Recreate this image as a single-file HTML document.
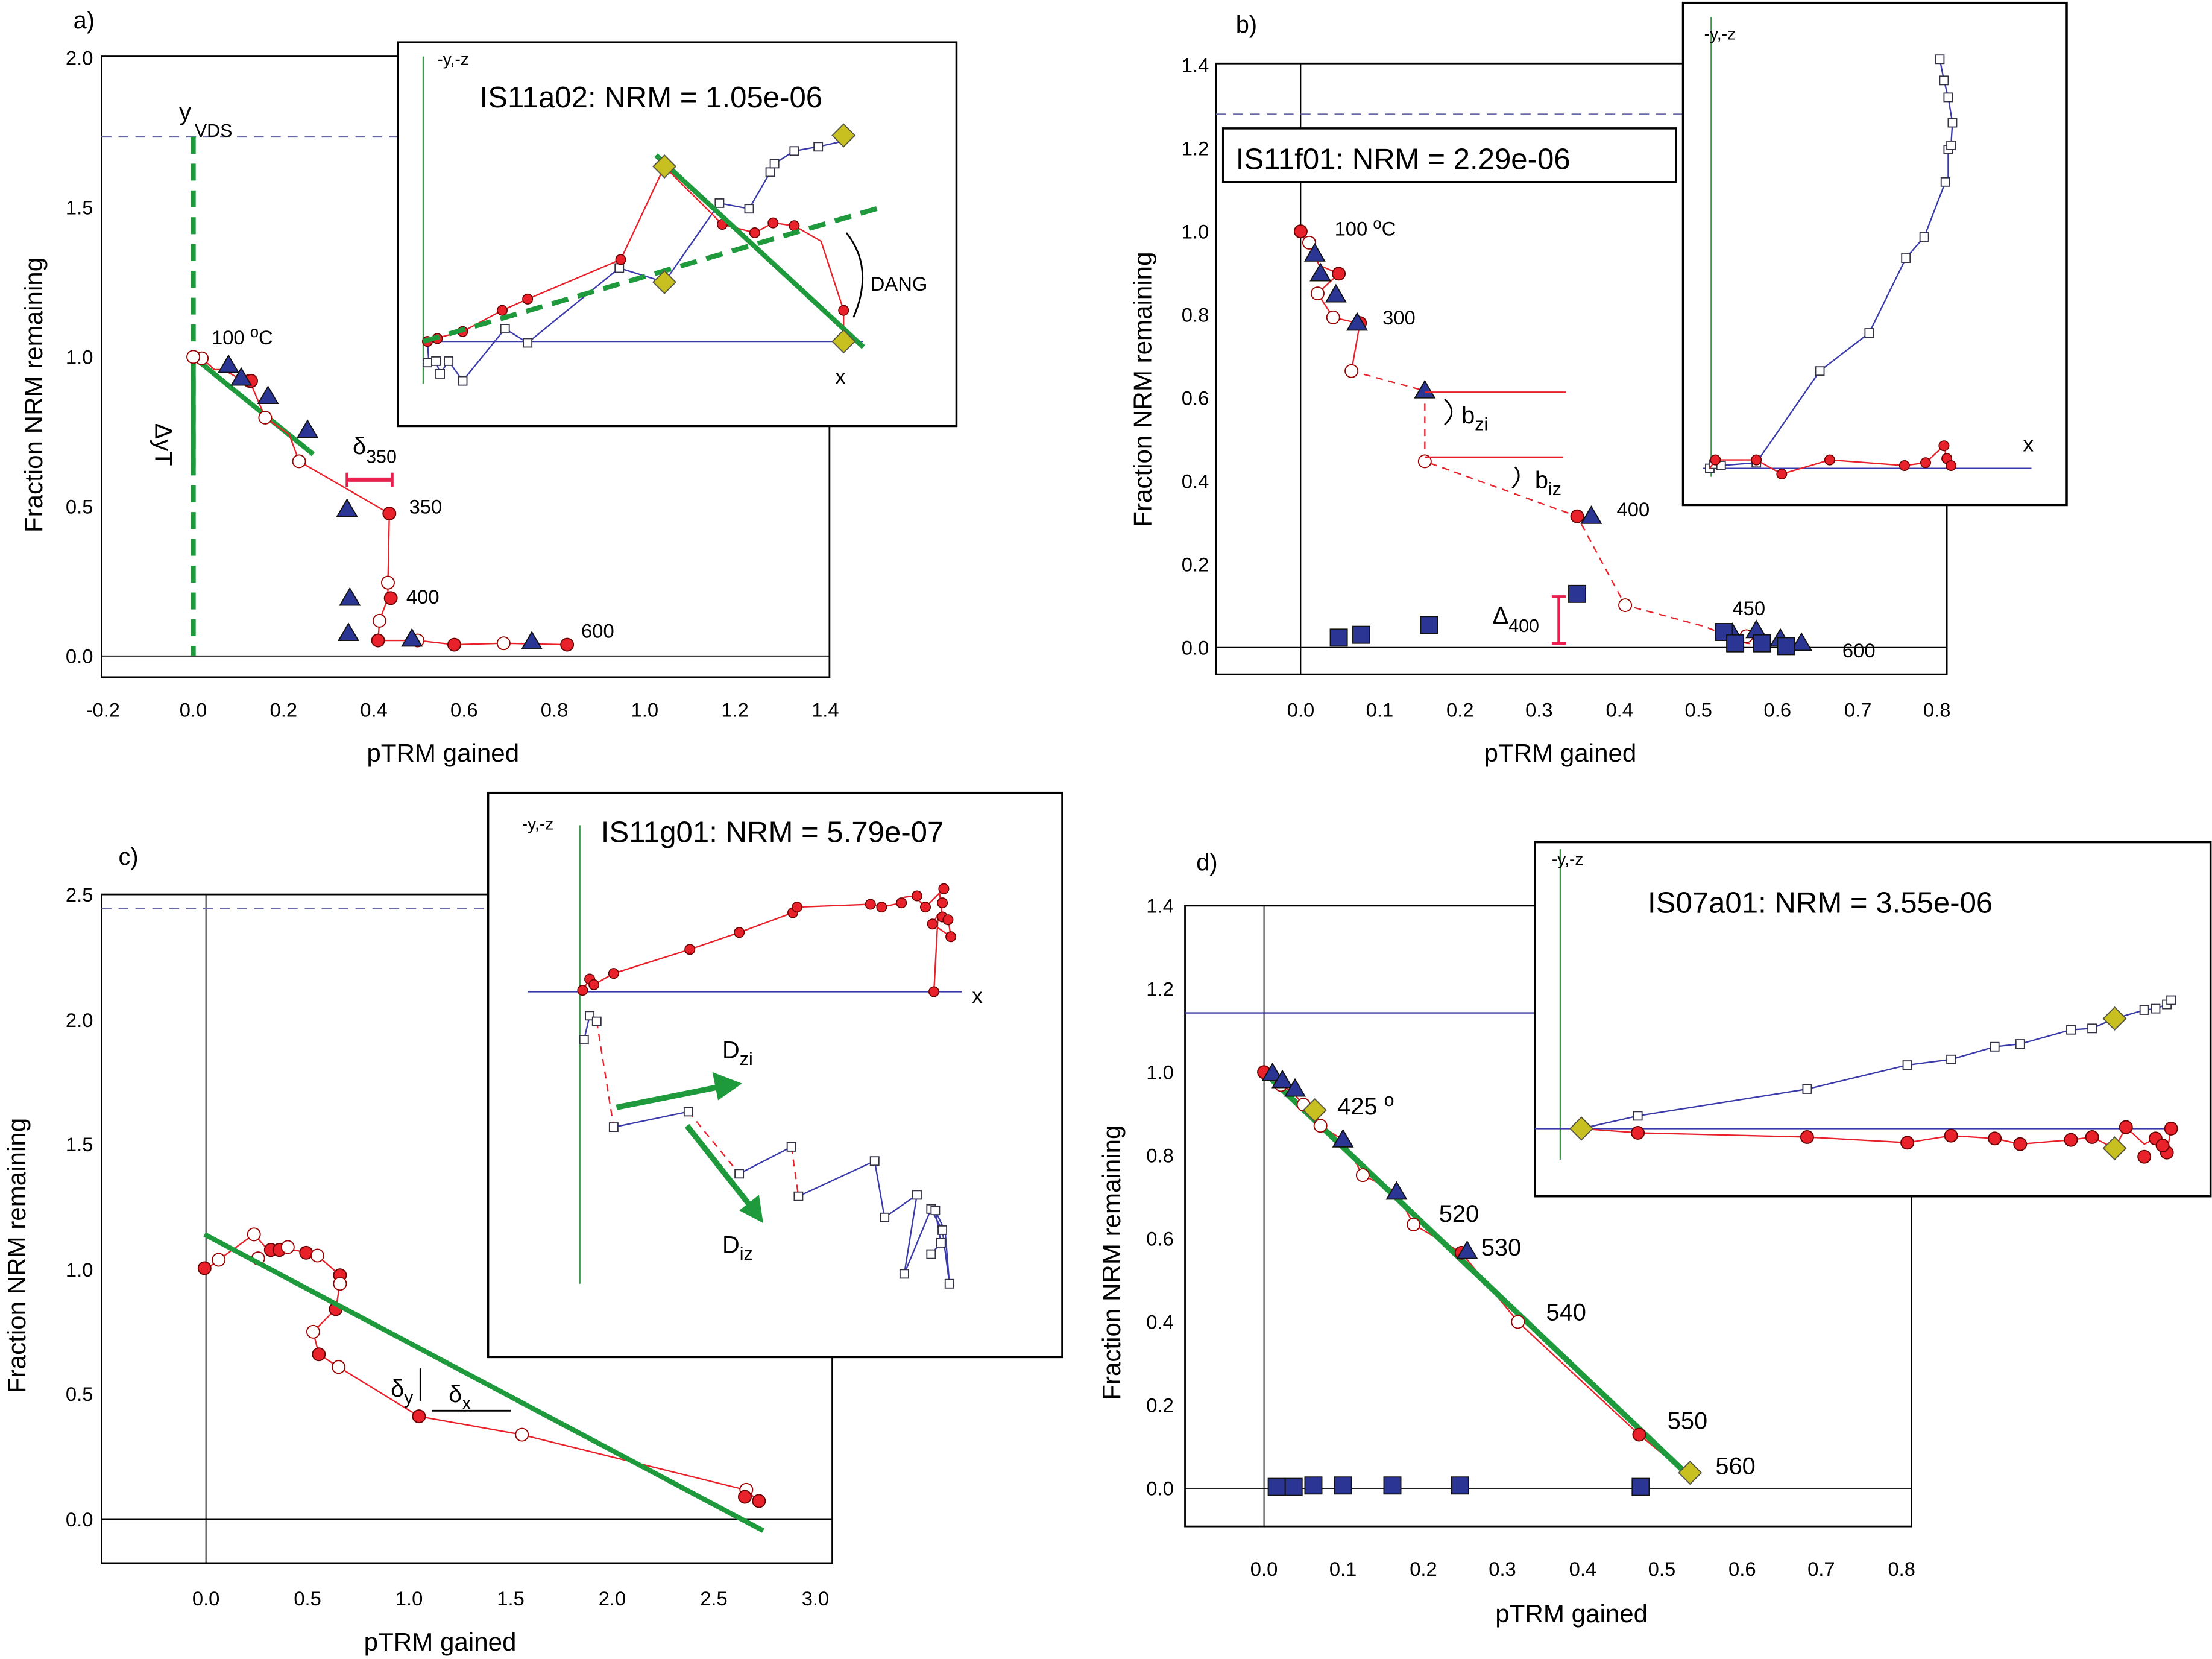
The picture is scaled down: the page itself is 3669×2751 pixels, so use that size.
<!DOCTYPE html>
<html><head><meta charset="utf-8"><style>html,body{margin:0;padding:0;background:#fff}svg{display:block}</style></head><body>
<svg width="3669" height="2751" viewBox="0 0 1568 1176" preserveAspectRatio="none" xmlns="http://www.w3.org/2000/svg" font-family="Liberation Sans, sans-serif">
<rect width="1568" height="1176" fill="#fff"/>
<defs>
<g id="rc"><circle r="4.5" fill="#e8212b" stroke="#600" stroke-width="0.8"/></g>
<g id="oc"><circle r="4.5" fill="#fff" stroke="#900" stroke-width="0.8"/></g>
<g id="tr"><polygon points="0,-7 7,5 -7,5" fill="#2b3593" stroke="#111" stroke-width="0.8"/></g>
<g id="sq"><rect x="-6" y="-6" width="12" height="12" fill="#2b3593" stroke="#111" stroke-width="0.8"/></g>
<g id="dm"><polygon points="0,-8 8,0 0,8 -8,0" fill="#c8c020" stroke="#554" stroke-width="0.8"/></g>
<g id="os"><rect x="-3" y="-3" width="6" height="6" fill="#fff" stroke="#334" stroke-width="0.8"/></g>
<g id="sc"><circle r="3.5" fill="#e8212b" stroke="#600" stroke-width="0.7"/></g>
</defs>

<!-- ===== Panel a ===== -->
<text x="52" y="20" font-size="17">a)</text>
<rect x="72" y="40" width="516" height="440" fill="none" stroke="#000" stroke-width="1.2"/>
<line x1="72" y1="465" x2="588" y2="465" stroke="#000" stroke-width="0.8"/>
<line x1="72" y1="97" x2="588" y2="97" stroke="#6a6aaa" stroke-dasharray="7,5" stroke-width="1"/>
<g font-size="14" text-anchor="middle">
<text x="73" y="508">-0.2</text><text x="137" y="508">0.0</text><text x="201" y="508">0.2</text><text x="265" y="508">0.4</text><text x="329" y="508">0.6</text><text x="393" y="508">0.8</text><text x="457" y="508">1.0</text><text x="521" y="508">1.2</text><text x="585" y="508">1.4</text>
</g>
<g font-size="14" text-anchor="end">
<text x="66" y="470">0.0</text><text x="66" y="364">0.5</text><text x="66" y="258">1.0</text><text x="66" y="152">1.5</text><text x="66" y="46">2.0</text>
</g>
<text x="314" y="540" font-size="18" text-anchor="middle">pTRM gained</text>
<text transform="translate(30,280) rotate(-90)" font-size="18" text-anchor="middle">Fraction NRM remaining</text>
<line x1="137" y1="97" x2="137" y2="465" stroke="#1e9a3c" stroke-width="3.5" stroke-dasharray="12,7"/>
<text x="127" y="85" font-size="17">y</text><text x="138" y="97" font-size="13">VDS</text>
<line x1="137" y1="253" x2="222" y2="322" stroke="#1e9a3c" stroke-width="3.5"/>
<text transform="translate(110,300) rotate(90)" font-size="17">ΔyT</text>
<line x1="137" y1="253" x2="137" y2="330" stroke="#1e9a3c" stroke-width="3.5"/>
<polyline points="137,253 143,254 152,262 158,262 169,268 177,270 188,296 205,308 212,327 276,364 275,413 275,424 269,440 268,454 296,454 322,457 357,456 402,457" fill="none" stroke="#e8212b" stroke-width="1"/>
<use href="#oc" x="143" y="254"/><use href="#oc" x="177" y="270"/><use href="#oc" x="188" y="296"/><use href="#oc" x="212" y="327"/><use href="#oc" x="275" y="413"/><use href="#oc" x="269" y="440"/><use href="#oc" x="296" y="454"/><use href="#oc" x="357" y="456"/><use href="#oc" x="137" y="253"/>
<use href="#rc" x="178" y="270"/><use href="#rc" x="276" y="364"/><use href="#rc" x="277" y="424"/><use href="#rc" x="268" y="454"/><use href="#rc" x="322" y="457"/><use href="#rc" x="402" y="457"/>
<use href="#tr" x="162" y="259"/><use href="#tr" x="171" y="268"/><use href="#tr" x="190" y="281"/><use href="#tr" x="218" y="305"/><use href="#tr" x="246" y="361"/><use href="#tr" x="248" y="424"/><use href="#tr" x="247" y="449"/><use href="#tr" x="292" y="453"/><use href="#tr" x="377" y="455"/>
<text x="150" y="244" font-size="14">100 <tspan font-size="11" dy="-5">o</tspan><tspan dy="5">C</tspan></text>
<text x="290" y="364" font-size="14">350</text><text x="288" y="428" font-size="14">400</text><text x="412" y="452" font-size="14">600</text>
<line x1="246" y1="340" x2="278" y2="340" stroke="#e8214f" stroke-width="3"/><line x1="246" y1="335" x2="246" y2="345" stroke="#e8214f" stroke-width="2"/><line x1="278" y1="335" x2="278" y2="345" stroke="#e8214f" stroke-width="2"/>
<text x="250" y="322" font-size="17">δ<tspan font-size="13" dy="6">350</tspan></text>
<!-- inset a -->
<rect x="282" y="30" width="396" height="272" fill="#fff" stroke="#000" stroke-width="1.5"/>
<line x1="300" y1="40" x2="300" y2="272" stroke="#3a9a4a" stroke-width="1"/>
<line x1="300" y1="242" x2="612" y2="242" stroke="#3a3aaa" stroke-width="1"/>
<text x="310" y="46" font-size="12">-y,-z</text>
<text x="340" y="76" font-size="21">IS11a02: NRM = 1.05e-06</text>
<text x="592" y="272" font-size="15">x</text>
<text x="617" y="206" font-size="14">DANG</text>
<path d="M600,165 Q620,190 605,225" fill="none" stroke="#000" stroke-width="1.2"/>
<polyline points="303,242 304,257 309,256 312,265 318,256 328,270 358,233 374,243 439,190 471,200 510,144 531,148 546,122 549,116 563,107 580,104 598,100" fill="none" stroke="#3a3aaa" stroke-width="1"/>
<g><use href="#os" x="303" y="257"/><use href="#os" x="309" y="256"/><use href="#os" x="312" y="265"/><use href="#os" x="318" y="256"/><use href="#os" x="328" y="270"/><use href="#os" x="358" y="233"/><use href="#os" x="374" y="243"/><use href="#os" x="439" y="190"/><use href="#os" x="510" y="144"/><use href="#os" x="531" y="148"/><use href="#os" x="546" y="122"/><use href="#os" x="549" y="116"/><use href="#os" x="563" y="107"/><use href="#os" x="580" y="104"/></g>
<polyline points="303,242 308,240 328,235 356,220 374,212 440,184 471,118 512,159 535,165 548,158 563,160 582,171 598,220 598,242" fill="none" stroke="#e8212b" stroke-width="1"/>
<use href="#sc" x="303" y="242"/><use href="#sc" x="310" y="240"/><use href="#sc" x="328" y="235"/><use href="#sc" x="356" y="220"/><use href="#sc" x="374" y="212"/><use href="#sc" x="440" y="184"/><use href="#sc" x="512" y="159"/><use href="#sc" x="535" y="165"/><use href="#sc" x="548" y="158"/><use href="#sc" x="563" y="160"/><use href="#sc" x="598" y="220"/>
<line x1="300" y1="242" x2="628" y2="146" stroke="#1e9a3c" stroke-width="3.5" stroke-dasharray="12,7"/>
<line x1="465" y1="110" x2="612" y2="246" stroke="#1e9a3c" stroke-width="3.5"/>
<use href="#dm" x="471" y="118"/><use href="#dm" x="471" y="200"/><use href="#dm" x="598" y="96"/><use href="#dm" x="598" y="242"/>

<!-- ===== Panel b ===== -->
<text x="876" y="23" font-size="17">b)</text>
<rect x="862" y="45" width="518" height="433" fill="none" stroke="#000" stroke-width="1.2"/>
<line x1="862" y1="459" x2="1380" y2="459" stroke="#000" stroke-width="0.8"/>
<line x1="922" y1="45" x2="922" y2="478" stroke="#000" stroke-width="0.8"/>
<line x1="862" y1="81" x2="1380" y2="81" stroke="#6a6aaa" stroke-dasharray="7,5" stroke-width="1"/>
<g font-size="14" text-anchor="middle">
<text x="922" y="508">0.0</text><text x="978" y="508">0.1</text><text x="1035" y="508">0.2</text><text x="1091" y="508">0.3</text><text x="1148" y="508">0.4</text><text x="1204" y="508">0.5</text><text x="1260" y="508">0.6</text><text x="1317" y="508">0.7</text><text x="1373" y="508">0.8</text>
</g>
<g font-size="14" text-anchor="end">
<text x="857" y="464">0.0</text><text x="857" y="405">0.2</text><text x="857" y="346">0.4</text><text x="857" y="287">0.6</text><text x="857" y="228">0.8</text><text x="857" y="169">1.0</text><text x="857" y="110">1.2</text><text x="857" y="51">1.4</text>
</g>
<text x="1106" y="540" font-size="18" text-anchor="middle">pTRM gained</text>
<text transform="translate(816,276) rotate(-90)" font-size="18" text-anchor="middle">Fraction NRM remaining</text>
<rect x="867" y="91" width="321" height="38" fill="#fff" stroke="#000" stroke-width="1.5"/>
<text x="876" y="120" font-size="21">IS11f01: NRM = 2.29e-06</text>
<polyline points="922,164 928,172 935,188 949,194 934,208 945,225 958,228 964,229 958,263" fill="none" stroke="#e8212b" stroke-width="1"/>
<polyline points="958,263 1010,277 1010,327 1118,366 1152,429 1208,444 1238,456 1262,458" fill="none" stroke="#e8212b" stroke-width="1" stroke-dasharray="5,4"/>
<use href="#rc" x="922" y="164"/><use href="#oc" x="928" y="172"/><use href="#rc" x="949" y="194"/><use href="#oc" x="934" y="208"/><use href="#oc" x="945" y="225"/><use href="#rc" x="964" y="229"/><use href="#oc" x="958" y="263"/><use href="#oc" x="1010" y="327"/><use href="#rc" x="1118" y="366"/><use href="#oc" x="1152" y="429"/><use href="#oc" x="1238" y="451"/>
<use href="#tr" x="932" y="180"/><use href="#tr" x="936" y="194"/><use href="#tr" x="947" y="209"/><use href="#tr" x="962" y="229"/><use href="#tr" x="1010" y="277"/><use href="#tr" x="1128" y="366"/><use href="#tr" x="1228" y="449"/><use href="#tr" x="1245" y="447"/><use href="#tr" x="1262" y="453"/><use href="#tr" x="1277" y="456"/>
<use href="#sq" x="949" y="452"/><use href="#sq" x="965" y="450"/><use href="#sq" x="1013" y="443"/><use href="#sq" x="1118" y="421"/><use href="#sq" x="1222" y="448"/><use href="#sq" x="1230" y="456"/><use href="#sq" x="1249" y="456"/><use href="#sq" x="1266" y="458"/>
<line x1="1010" y1="278" x2="1110" y2="278" stroke="#e8212b" stroke-width="1"/>
<line x1="1010" y1="324" x2="1108" y2="324" stroke="#e8212b" stroke-width="1"/>
<path d="M1024,283 Q1034,292 1024,301" fill="none" stroke="#000" stroke-width="1.2"/>
<path d="M1074,331 Q1080,338 1072,346" fill="none" stroke="#000" stroke-width="1.2"/>
<text x="1036" y="300" font-size="17">b<tspan font-size="13" dy="5">zi</tspan></text>
<text x="1088" y="346" font-size="17">b<tspan font-size="13" dy="5">iz</tspan></text>
<text x="946" y="167" font-size="14">100 <tspan font-size="11" dy="-5">o</tspan><tspan dy="5">C</tspan></text>
<text x="980" y="230" font-size="14">300</text><text x="1146" y="366" font-size="14">400</text><text x="1228" y="436" font-size="14">450</text><text x="1306" y="466" font-size="14">600</text>
<line x1="1105" y1="423" x2="1105" y2="456" stroke="#e8214f" stroke-width="2"/><line x1="1100" y1="423" x2="1110" y2="423" stroke="#e8214f" stroke-width="2"/><line x1="1100" y1="456" x2="1110" y2="456" stroke="#e8214f" stroke-width="2"/>
<text x="1058" y="442" font-size="17">Δ<tspan font-size="13" dy="6">400</tspan></text>
<!-- inset b -->
<rect x="1193" y="2" width="272" height="356" fill="#fff" stroke="#000" stroke-width="1.5"/>
<line x1="1213" y1="12" x2="1213" y2="338" stroke="#3a9a4a" stroke-width="1"/>
<line x1="1207" y1="332" x2="1440" y2="332" stroke="#3a3aaa" stroke-width="1"/>
<text x="1208" y="28" font-size="12">-y,-z</text>
<text x="1434" y="320" font-size="15">x</text>
<polyline points="1212,332 1215,329 1220,330 1245,328 1290,263 1325,236 1351,183 1364,168 1379,129 1381,126 1381,106 1383,103 1384,87 1381,69 1378,57 1375,42" fill="none" stroke="#3a3aaa" stroke-width="1"/>
<use href="#os" x="1212" y="332"/><use href="#os" x="1215" y="329"/><use href="#os" x="1220" y="330"/><use href="#os" x="1245" y="328"/><use href="#os" x="1290" y="263"/><use href="#os" x="1325" y="236"/><use href="#os" x="1351" y="183"/><use href="#os" x="1364" y="168"/><use href="#os" x="1379" y="129"/><use href="#os" x="1381" y="106"/><use href="#os" x="1383" y="103"/><use href="#os" x="1384" y="87"/><use href="#os" x="1381" y="69"/><use href="#os" x="1378" y="57"/><use href="#os" x="1375" y="42"/>
<polyline points="1212,332 1216,326 1245,326 1263,336 1297,326 1350,330 1365,328 1378,316 1380,325 1383,330" fill="none" stroke="#e8212b" stroke-width="1"/>
<use href="#sc" x="1216" y="326"/><use href="#sc" x="1245" y="326"/><use href="#sc" x="1263" y="336"/><use href="#sc" x="1297" y="326"/><use href="#sc" x="1350" y="330"/><use href="#sc" x="1365" y="328"/><use href="#sc" x="1378" y="316"/><use href="#sc" x="1380" y="325"/><use href="#sc" x="1383" y="330"/>

<!-- ===== Panel c ===== -->
<text x="84" y="613" font-size="17">c)</text>
<rect x="72" y="634" width="518" height="474" fill="none" stroke="#000" stroke-width="1.2"/>
<line x1="72" y1="1077" x2="590" y2="1077" stroke="#000" stroke-width="0.8"/>
<line x1="146" y1="634" x2="146" y2="1108" stroke="#000" stroke-width="0.8"/>
<line x1="72" y1="644" x2="590" y2="644" stroke="#6a6aaa" stroke-dasharray="7,5" stroke-width="1"/>
<g font-size="14" text-anchor="middle">
<text x="146" y="1138">0.0</text><text x="218" y="1138">0.5</text><text x="290" y="1138">1.0</text><text x="362" y="1138">1.5</text><text x="434" y="1138">2.0</text><text x="506" y="1138">2.5</text><text x="578" y="1138">3.0</text>
</g>
<g font-size="14" text-anchor="end">
<text x="66" y="1082">0.0</text><text x="66" y="993">0.5</text><text x="66" y="905">1.0</text><text x="66" y="816">1.5</text><text x="66" y="728">2.0</text><text x="66" y="639">2.5</text>
</g>
<text x="312" y="1170" font-size="18" text-anchor="middle">pTRM gained</text>
<text transform="translate(18,890) rotate(-90)" font-size="18" text-anchor="middle">Fraction NRM remaining</text>
<polyline points="146,900 155,893 180,875 191,887 197,886 203,885 218,888 225,890 241,904 241,910 238,928 222,944 226,960 240,969 297,1004 370,1017 528,1056 538,1064" fill="none" stroke="#e8212b" stroke-width="1"/>
<use href="#rc" x="145" y="899"/><use href="#oc" x="155" y="893"/><use href="#oc" x="180" y="875"/><use href="#oc" x="183" y="892"/><use href="#rc" x="192" y="886"/><use href="#rc" x="198" y="886"/><use href="#oc" x="204" y="884"/><use href="#rc" x="217" y="888"/><use href="#oc" x="225" y="890"/><use href="#rc" x="241" y="904"/><use href="#oc" x="241" y="910"/><use href="#rc" x="238" y="928"/><use href="#oc" x="222" y="944"/><use href="#rc" x="226" y="960"/><use href="#oc" x="240" y="969"/><use href="#rc" x="297" y="1004"/><use href="#oc" x="370" y="1017"/><use href="#oc" x="529" y="1056"/><use href="#rc" x="528" y="1061"/><use href="#rc" x="538" y="1064"/>
<line x1="145" y1="875" x2="541" y2="1085" stroke="#1e9a3c" stroke-width="3.5"/>
<line x1="298" y1="970" x2="298" y2="993" stroke="#000" stroke-width="1.2"/>
<line x1="306" y1="1000" x2="362" y2="1000" stroke="#000" stroke-width="1.2"/>
<text x="277" y="990" font-size="17">δ<tspan font-size="13" dy="5">y</tspan></text>
<text x="318" y="994" font-size="17">δ<tspan font-size="13" dy="5">x</tspan></text>
<!-- inset c -->
<rect x="346" y="562" width="407" height="400" fill="#fff" stroke="#000" stroke-width="1.5"/>
<line x1="411" y1="585" x2="411" y2="910" stroke="#3a9a4a" stroke-width="1"/>
<line x1="374" y1="703" x2="682" y2="703" stroke="#3a3aaa" stroke-width="1"/>
<text x="370" y="588" font-size="12">-y,-z</text>
<text x="426" y="597" font-size="21">IS11g01: NRM = 5.79e-07</text>
<text x="689" y="711" font-size="15">x</text>
<polyline points="413,702 418,694 421,698 435,690 489,673 524,661 562,647 565,643 617,641 625,643 639,640 641,636 648,635 656,643 669,630 666,633 668,650 672,651 674,664 661,655 665,648 662,703" fill="none" stroke="#e8212b" stroke-width="1"/>
<use href="#sc" x="413" y="702"/><use href="#sc" x="418" y="694"/><use href="#sc" x="421" y="698"/><use href="#sc" x="435" y="690"/><use href="#sc" x="489" y="673"/><use href="#sc" x="524" y="661"/><use href="#sc" x="562" y="647"/><use href="#sc" x="565" y="643"/><use href="#sc" x="617" y="641"/><use href="#sc" x="625" y="643"/><use href="#sc" x="639" y="640"/><use href="#sc" x="650" y="635"/><use href="#sc" x="656" y="643"/><use href="#sc" x="669" y="630"/><use href="#sc" x="668" y="640"/><use href="#sc" x="668" y="650"/><use href="#sc" x="672" y="652"/><use href="#sc" x="674" y="664"/><use href="#sc" x="661" y="655"/><use href="#sc" x="662" y="703"/>
<polyline points="414,737 418,720 423,724" fill="none" stroke="#3a3aaa" stroke-width="1"/>
<polyline points="423,724 435,799" fill="none" stroke="#e8212b" stroke-width="1" stroke-dasharray="5,4"/>
<polyline points="435,799 488,788" fill="none" stroke="#3a3aaa" stroke-width="1"/>
<polyline points="488,788 524,832" fill="none" stroke="#e8212b" stroke-width="1" stroke-dasharray="5,4"/>
<polyline points="524,832 561,813" fill="none" stroke="#3a3aaa" stroke-width="1"/>
<polyline points="561,813 566,848" fill="none" stroke="#e8212b" stroke-width="1" stroke-dasharray="5,4"/>
<polyline points="566,848 620,823 627,863 650,847 641,903 660,857 668,872 673,910 670,873 663,858 667,881 660,889" fill="none" stroke="#3a3aaa" stroke-width="1"/>
<use href="#os" x="414" y="737"/><use href="#os" x="418" y="720"/><use href="#os" x="423" y="724"/><use href="#os" x="435" y="799"/><use href="#os" x="488" y="788"/><use href="#os" x="524" y="832"/><use href="#os" x="561" y="813"/><use href="#os" x="566" y="848"/><use href="#os" x="620" y="823"/><use href="#os" x="627" y="863"/><use href="#os" x="650" y="847"/><use href="#os" x="641" y="903"/><use href="#os" x="660" y="857"/><use href="#os" x="668" y="872"/><use href="#os" x="673" y="910"/><use href="#os" x="663" y="858"/><use href="#os" x="667" y="881"/><use href="#os" x="660" y="889"/>
<line x1="437" y1="785" x2="512" y2="770" stroke="#1e9a3c" stroke-width="4"/><polygon points="526,768 505,760 509,780" fill="#1e9a3c"/>
<line x1="487" y1="798" x2="532" y2="855" stroke="#1e9a3c" stroke-width="4"/><polygon points="541,867 524,858 538,847" fill="#1e9a3c"/>
<text x="512" y="750" font-size="17">D<tspan font-size="13" dy="5">zi</tspan></text>
<text x="512" y="888" font-size="17">D<tspan font-size="13" dy="5">iz</tspan></text>

<!-- ===== Panel d ===== -->
<text x="848" y="617" font-size="17">d)</text>
<rect x="840" y="642" width="515" height="440" fill="none" stroke="#000" stroke-width="1.2"/>
<line x1="840" y1="1055" x2="1355" y2="1055" stroke="#000" stroke-width="0.8"/>
<line x1="896" y1="642" x2="896" y2="1082" stroke="#000" stroke-width="0.8"/>
<line x1="840" y1="718" x2="1088" y2="718" stroke="#3a3aaa" stroke-width="1"/>
<g font-size="14" text-anchor="middle">
<text x="896" y="1117">0.0</text><text x="952" y="1117">0.1</text><text x="1009" y="1117">0.2</text><text x="1065" y="1117">0.3</text><text x="1122" y="1117">0.4</text><text x="1178" y="1117">0.5</text><text x="1235" y="1117">0.6</text><text x="1291" y="1117">0.7</text><text x="1348" y="1117">0.8</text>
</g>
<g font-size="14" text-anchor="end">
<text x="832" y="1060">0.0</text><text x="832" y="1001">0.2</text><text x="832" y="942">0.4</text><text x="832" y="883">0.6</text><text x="832" y="824">0.8</text><text x="832" y="765">1.0</text><text x="832" y="706">1.2</text><text x="832" y="647">1.4</text>
</g>
<text x="1114" y="1150" font-size="18" text-anchor="middle">pTRM gained</text>
<text transform="translate(794,895) rotate(-90)" font-size="18" text-anchor="middle">Fraction NRM remaining</text>
<polyline points="896,760 904,764 908,769 916,774 924,783 932,788 936,798 952,808 966,833 990,845 1002,868 1036,888 1076,937 1162,1017 1196,1045" fill="none" stroke="#e8212b" stroke-width="1"/>
<line x1="896" y1="760" x2="1198" y2="1047" stroke="#1e9a3c" stroke-width="4"/>
<use href="#rc" x="896" y="760"/><use href="#oc" x="908" y="769"/><use href="#oc" x="924" y="783"/><use href="#oc" x="936" y="798"/><use href="#oc" x="966" y="833"/><use href="#oc" x="1002" y="868"/><use href="#rc" x="1036" y="888"/><use href="#oc" x="1076" y="937"/><use href="#rc" x="1162" y="1017"/>
<use href="#tr" x="902" y="761"/><use href="#tr" x="909" y="766"/><use href="#tr" x="918" y="772"/><use href="#tr" x="952" y="808"/><use href="#tr" x="990" y="845"/><use href="#tr" x="1040" y="887"/>
<use href="#dm" x="932" y="787"/><use href="#dm" x="1198" y="1044"/>
<use href="#sq" x="905" y="1054"/><use href="#sq" x="917" y="1054"/><use href="#sq" x="931" y="1053"/><use href="#sq" x="952" y="1053"/><use href="#sq" x="987" y="1053"/><use href="#sq" x="1035" y="1053"/><use href="#sq" x="1163" y="1054"/>
<text x="948" y="790" font-size="17">425 <tspan font-size="13" dy="-6">o</tspan></text>
<text x="1020" y="866" font-size="17">520</text><text x="1050" y="890" font-size="17">530</text><text x="1096" y="936" font-size="17">540</text><text x="1182" y="1013" font-size="17">550</text><text x="1216" y="1045" font-size="17">560</text>
<!-- inset d -->
<rect x="1088" y="597" width="479" height="251" fill="#fff" stroke="#000" stroke-width="1.5"/>
<line x1="1106" y1="602" x2="1106" y2="822" stroke="#3a9a4a" stroke-width="1"/>
<line x1="1088" y1="800" x2="1540" y2="800" stroke="#3a3aaa" stroke-width="1"/>
<text x="1100" y="613" font-size="12">-y,-z</text>
<text x="1168" y="647" font-size="21">IS07a01: NRM = 3.55e-06</text>
<polyline points="1121,800 1161,791 1281,772 1352,755 1383,751 1414,742 1432,740 1468,730 1483,729 1499,722 1520,716 1528,715 1536,712 1539,709" fill="none" stroke="#3a3aaa" stroke-width="1"/>
<use href="#os" x="1161" y="791"/><use href="#os" x="1281" y="772"/><use href="#os" x="1352" y="755"/><use href="#os" x="1383" y="751"/><use href="#os" x="1414" y="742"/><use href="#os" x="1432" y="740"/><use href="#os" x="1468" y="730"/><use href="#os" x="1483" y="729"/><use href="#os" x="1520" y="716"/><use href="#os" x="1528" y="715"/><use href="#os" x="1536" y="712"/><use href="#os" x="1539" y="709"/>
<polyline points="1121,800 1161,803 1281,806 1352,810 1383,805 1414,807 1432,811 1468,808 1483,806 1499,814 1507,799 1520,811 1528,807 1536,817 1539,800" fill="none" stroke="#e8212b" stroke-width="1"/>
<use href="#rc" x="1161" y="803"/><use href="#rc" x="1281" y="806"/><use href="#rc" x="1352" y="810"/><use href="#rc" x="1383" y="805"/><use href="#rc" x="1414" y="807"/><use href="#rc" x="1432" y="811"/><use href="#rc" x="1468" y="808"/><use href="#rc" x="1483" y="806"/><use href="#rc" x="1507" y="799"/><use href="#rc" x="1520" y="820"/><use href="#rc" x="1528" y="807"/><use href="#rc" x="1536" y="817"/><use href="#rc" x="1539" y="800"/><use href="#rc" x="1533" y="812"/>
<use href="#dm" x="1121" y="800"/><use href="#dm" x="1499" y="722"/><use href="#dm" x="1499" y="814"/>
</svg>
</body></html>
